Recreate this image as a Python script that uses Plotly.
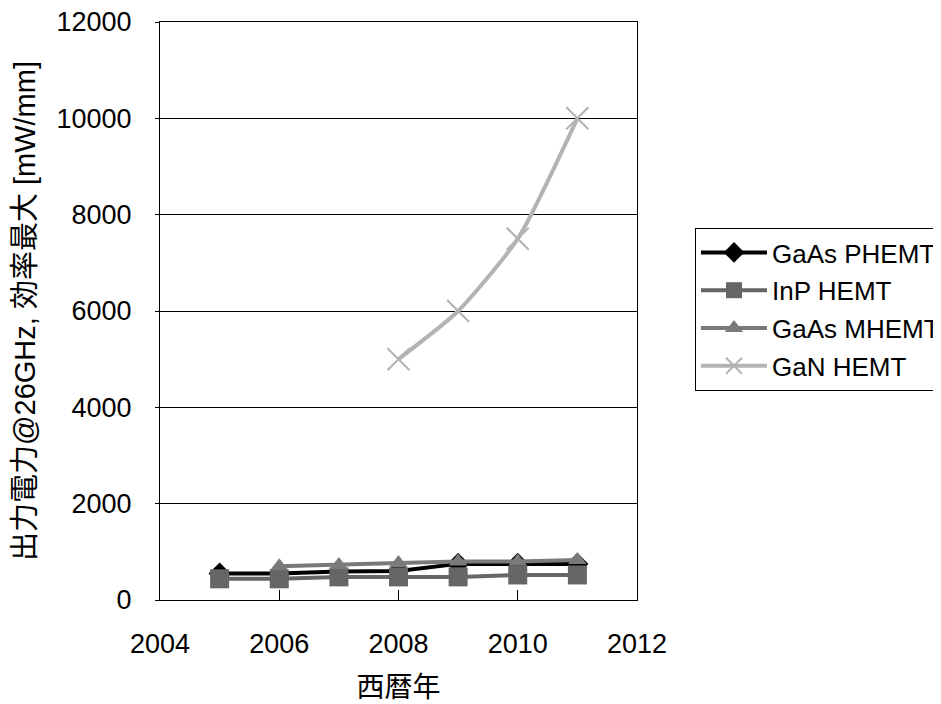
import plotly.graph_objects as go

# data
years = [2005, 2006, 2007, 2008, 2009, 2010, 2011]
gaas_phemt = [550, 550, 590, 600, 750, 750, 750]
inp_hemt = [440, 440, 480, 480, 480, 520, 520]
mhemt_years = [2006, 2007, 2008, 2009, 2010, 2011]
gaas_mhemt = [700, 725, 770, 800, 800, 830]
gan_years = [2008, 2009, 2010, 2011]
gan_hemt = [5000, 6000, 7500, 10000]

y_ticks = [0, 2000, 4000, 6000, 8000, 10000, 12000]
x_ticks = [2004, 2006, 2008, 2010, 2012]

font = "Liberation Sans, Noto Sans CJK JP, sans-serif"

fig = go.Figure()

fig.add_trace(go.Scatter(
    x=years, y=gaas_phemt, name="GaAs PHEMT", mode="lines+markers",
    legendgroup="a",
    line=dict(color="#000000", width=4),
    marker=dict(symbol="diamond", size=17, color="#000000"),
))
fig.add_trace(go.Scatter(
    x=years, y=inp_hemt, name="InP HEMT", mode="lines+markers",
    legendgroup="b",
    line=dict(color="#666666", width=4),
    marker=dict(symbol="square", size=19, color="#666666"),
))
fig.add_trace(go.Scatter(
    x=mhemt_years, y=gaas_mhemt, name="GaAs MHEMT", mode="lines+markers",
    legendgroup="c",
    line=dict(color="#7a7a7a", width=4),
    marker=dict(symbol="triangle-up", size=16, color="#7a7a7a"),
))
fig.add_trace(go.Scatter(
    x=gan_years, y=gan_hemt, name="GaN HEMT", mode="lines+markers",
    legendgroup="d",
    line=dict(color="#b3b3b3", width=4, shape="spline", smoothing=0.6),
    marker=dict(symbol="x-thin", size=22, color="#b3b3b3",
                line=dict(color="#b3b3b3", width=2)),
))

# the page body adds an 8px offset, so margins are reduced by 8
fig.update_layout(
    width=941, height=704,
    margin=dict(l=152, r=312, t=14, b=112, autoexpand=False),
    paper_bgcolor="white", plot_bgcolor="white",
    font=dict(family=font, size=27, color="#000000"),
    legend=dict(
        x=1.1216, y=0.6436, xanchor="left", yanchor="top",
        bordercolor="#000000", borderwidth=1,
        font=dict(size=26), tracegroupgap=1, itemwidth=66,
    ),
    xaxis=dict(
        range=[2004, 2012], tickvals=x_ticks, showgrid=False,
        showline=True, linecolor="#000000", linewidth=1, mirror=True,
        ticks="inside", ticklen=10, tickcolor="#000000",
        ticklabelstandoff=20, ticklabeloverflow="allow",
        title=dict(text="西暦年", font=dict(size=28), standoff=18),
        zeroline=False,
    ),
    yaxis=dict(
        range=[0, 12000], tickvals=y_ticks, tickformat="d",
        showgrid=True, gridcolor="#000000", gridwidth=1,
        showline=True, linecolor="#000000", linewidth=1, mirror=True,
        ticks="outside", ticklen=4, tickcolor="#000000",
        ticklabelstandoff=18, ticklabeloverflow="allow",
        title=dict(text="出力電力@26GHz, 効率最大 [mW/mm]", font=dict(size=29), standoff=12),
        zeroline=False,
    ),
)

fig.write_html("out.html")
